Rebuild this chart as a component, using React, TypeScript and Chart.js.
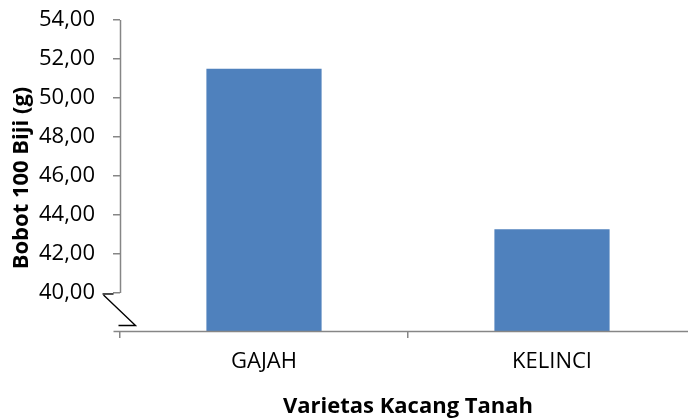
import { useEffect, useRef } from "react";
import { Chart, registerables } from "chart.js";

Chart.register(...registerables);

const categories = ["GAJAH", "KELINCI"];
const seedWeights = [51.5, 43.27];
const yTickValues = [40, 42, 44, 46, 48, 50, 52, 54];
const yAxisTitle = "Bobot 100 Biji (g)";
const xAxisTitle = "Varietas Kacang Tanah";

const AXIS_GREY = "#868686";
const BAR_BLUE = "#4F81BD";
const FONT = "'Open Sans', sans-serif";

const fmt = (v: number) => v.toFixed(2).replace(".", ",");

// Axis lines, the broken-axis mark and both axis titles.
const brokenAxisPlugin = {
  id: "brokenAxis",
  afterDraw(chart: any) {
    const { ctx, chartArea, scales } = chart;
    const y = scales.y;
    const left = Math.round(chartArea.left) + 0.5;
    const yTop = y.getPixelForValue(yTickValues[yTickValues.length - 1]);
    const yLow = y.getPixelForValue(yTickValues[0]);
    const base = Math.round(chartArea.bottom) + 0.5;

    ctx.save();
    ctx.strokeStyle = AXIS_GREY;
    ctx.lineWidth = 1.5;
    ctx.beginPath();
    ctx.moveTo(left, yTop);
    ctx.lineTo(left, yLow);
    ctx.stroke();
    ctx.beginPath();
    ctx.moveTo(left - 7, base);
    ctx.lineTo(chartArea.right, base);
    ctx.stroke();

    // zig-zag break between 40 and the baseline
    ctx.strokeStyle = "#000";
    ctx.lineWidth = 1.4;
    ctx.beginPath();
    ctx.moveTo(left - 18, yLow + 1);
    ctx.lineTo(left - 7, yLow + 1);
    ctx.stroke();
    ctx.beginPath();
    ctx.moveTo(left - 17, yLow + 2);
    ctx.lineTo(left + 15, base - 6);
    ctx.lineTo(left - 2, base - 6);
    ctx.stroke();

    // titles
    ctx.fillStyle = "#000";
    ctx.font = `bold 22px ${FONT}`;
    ctx.textAlign = "center";
    ctx.textBaseline = "middle";
    ctx.fillText(xAxisTitle, (chartArea.left + chartArea.right) / 2, 407);

    ctx.translate(22, 178);
    ctx.rotate(-Math.PI / 2);
    ctx.fillText(yAxisTitle, 0, 0);
    ctx.restore();
  },
};

export default function App() {
  const canvasRef = useRef<HTMLCanvasElement | null>(null);

  useEffect(() => {
    if (!canvasRef.current) return;
    const chart = new Chart(canvasRef.current, {
      type: "bar",
      data: {
        labels: categories,
        datasets: [
          {
            data: seedWeights,
            backgroundColor: BAR_BLUE,
            barPercentage: 0.4,
            categoryPercentage: 1.0,
          },
        ],
      },
      options: {
        animation: false,
        responsive: false,
        devicePixelRatio: 1,
        layout: { padding: { top: 20, right: 24, bottom: 0, left: 0 } },
        plugins: { legend: { display: false }, tooltip: { enabled: false } },
        scales: {
          x: {
            offset: true,
            border: { display: false },
            grid: {
              display: true,
              drawOnChartArea: false,
              drawTicks: true,
              tickLength: 7,
              color: AXIS_GREY,
              lineWidth: 1.5,
              offset: true,
            },
            ticks: {
              color: "#000",
              font: { family: FONT, size: 22 },
              padding: 11,
              maxRotation: 0,
            },
            afterFit: (s: any) => {
              s.height = 88;
              s.paddingLeft = 0;
              s.paddingRight = 0;
            },
          },
          y: {
            min: 38.05,
            max: 54,
            border: { display: false },
            grid: {
              display: true,
              drawOnChartArea: false,
              drawTicks: true,
              tickLength: 7,
              color: AXIS_GREY,
              lineWidth: 1.5,
            },
            afterBuildTicks: (s: any) => {
              s.ticks = yTickValues.map((v) => ({ value: v }));
            },
            ticks: {
              color: "#000",
              font: { family: FONT, size: 22 },
              padding: 18,
              callback: (v: any) => fmt(Number(v)),
            },
            afterFit: (s: any) => {
              s.width = 120;
              s.paddingTop = 0;
              s.paddingBottom = 0;
            },
          },
        },
      },
      plugins: [brokenAxisPlugin],
    });
    return () => chart.destroy();
  }, []);

  return (
    <div
      style={{
        position: "fixed",
        left: 0,
        top: 0,
        width: 688,
        height: 419,
        overflow: "hidden",
        background: "#fff",
      }}
    >
      <canvas ref={canvasRef} width={720} height={419} style={{ width: 720, height: 419, display: "block" }} />
    </div>
  );
}
